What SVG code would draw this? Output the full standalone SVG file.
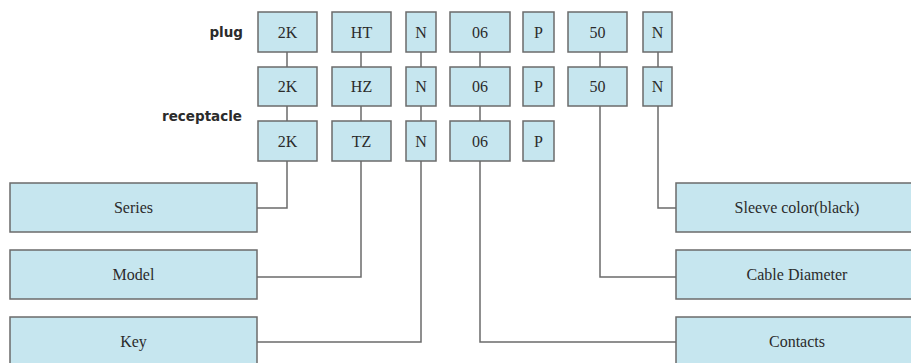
<svg xmlns="http://www.w3.org/2000/svg" width="911" height="363" viewBox="0 0 911 363">
<style>
.b{fill:#c6e6ef;stroke:#6b6b6b;stroke-width:1.5}
.t{font-family:"Liberation Serif",serif;font-size:16px;fill:#2b2b2b;text-anchor:middle;dominant-baseline:central}
.lbl{font-family:"DejaVu Sans",sans-serif;font-size:13.5px;font-weight:bold;fill:#2b2b2b;text-anchor:end}
.c{fill:none;stroke:#6b6b6b;stroke-width:1.5}
</style>
<rect width="911" height="363" fill="#fff"/>
<text class="lbl" x="243" y="37">plug</text>
<text class="lbl" x="242" y="121">receptacle</text>
<g id="connectors">
<path class="c" d="M287 52V67M287 106V121M287 161V208H257"/>
<path class="c" d="M361 52V67M361 106V121M361 161V277H257"/>
<path class="c" d="M421 52V67M421 106V121M421 161V342H257"/>
<path class="c" d="M480 52V67M480 106V121M480 161V342H676"/>
<path class="c" d="M600 52V67M600 106V277H676"/>
<path class="c" d="M658 52V67M658 106V208H676"/>
</g>
<g id="r1-2K"><rect class="b" x="258" y="12" width="59" height="40"/><text class="t" x="287.5" y="32">2K</text></g>
<g id="r1-HT"><rect class="b" x="332" y="12" width="59" height="40"/><text class="t" x="361.5" y="32">HT</text></g>
<g id="r1-N"><rect class="b" x="406" y="12" width="30" height="40"/><text class="t" x="421" y="32">N</text></g>
<g id="r1-06"><rect class="b" x="450" y="12" width="60" height="40"/><text class="t" x="480" y="32">06</text></g>
<g id="r1-P"><rect class="b" x="523" y="12" width="31" height="40"/><text class="t" x="538.5" y="32">P</text></g>
<g id="r1-50"><rect class="b" x="568" y="12" width="59" height="40"/><text class="t" x="597.5" y="32">50</text></g>
<g id="r1-N2"><rect class="b" x="643" y="12" width="29" height="40"/><text class="t" x="657.5" y="32">N</text></g>
<g id="r2-2K"><rect class="b" x="258" y="67" width="59" height="39"/><text class="t" x="287.5" y="86.5">2K</text></g>
<g id="r2-HZ"><rect class="b" x="332" y="67" width="59" height="39"/><text class="t" x="361.5" y="86.5">HZ</text></g>
<g id="r2-N"><rect class="b" x="406" y="67" width="30" height="39"/><text class="t" x="421" y="86.5">N</text></g>
<g id="r2-06"><rect class="b" x="450" y="67" width="60" height="39"/><text class="t" x="480" y="86.5">06</text></g>
<g id="r2-P"><rect class="b" x="523" y="67" width="31" height="39"/><text class="t" x="538.5" y="86.5">P</text></g>
<g id="r2-50"><rect class="b" x="568" y="67" width="59" height="39"/><text class="t" x="597.5" y="86.5">50</text></g>
<g id="r2-N2"><rect class="b" x="643" y="67" width="29" height="39"/><text class="t" x="657.5" y="86.5">N</text></g>
<g id="r3-2K"><rect class="b" x="258" y="121" width="59" height="40"/><text class="t" x="287.5" y="141">2K</text></g>
<g id="r3-TZ"><rect class="b" x="332" y="121" width="59" height="40"/><text class="t" x="361.5" y="141">TZ</text></g>
<g id="r3-N"><rect class="b" x="406" y="121" width="30" height="40"/><text class="t" x="421" y="141">N</text></g>
<g id="r3-06"><rect class="b" x="450" y="121" width="60" height="40"/><text class="t" x="480" y="141">06</text></g>
<g id="r3-P"><rect class="b" x="523" y="121" width="31" height="40"/><text class="t" x="538.5" y="141">P</text></g>
<g id="series"><rect class="b" x="10" y="183" width="247" height="49"/><text class="t" x="133.5" y="207.5">Series</text></g>
<g id="model"><rect class="b" x="10" y="250" width="247" height="49"/><text class="t" x="133.5" y="274.5">Model</text></g>
<g id="key"><rect class="b" x="10" y="317" width="247" height="60"/><text class="t" x="133.5" y="341.5">Key</text></g>
<g id="sleeve"><rect class="b" x="676" y="183" width="245" height="49"/><text class="t" x="797" y="207.5">Sleeve color(black)</text></g>
<g id="cable"><rect class="b" x="676" y="250" width="245" height="49"/><text class="t" x="797" y="274.5">Cable Diameter</text></g>
<g id="contacts"><rect class="b" x="676" y="317" width="245" height="60"/><text class="t" x="797" y="341.5">Contacts</text></g>
</svg>
